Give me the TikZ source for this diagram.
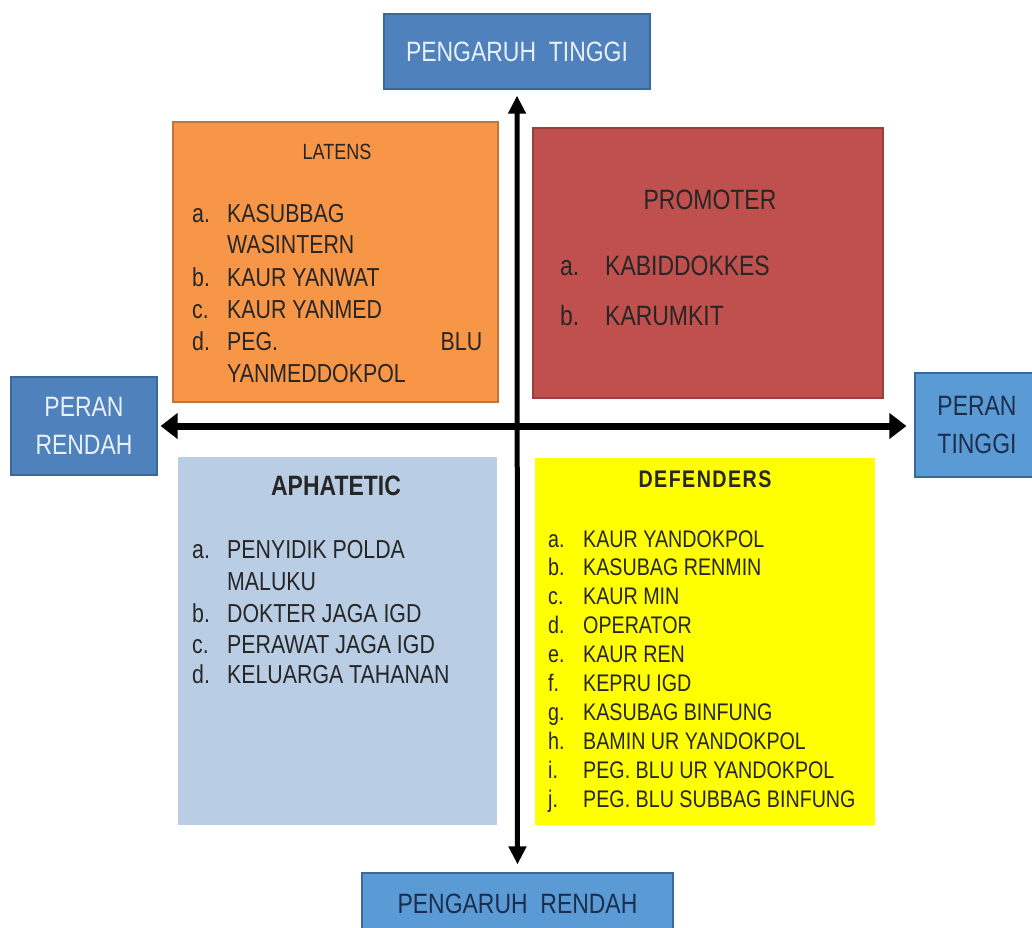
\documentclass[tikz,border=0pt]{standalone}
\usepackage{fontspec}
\setmainfont{Liberation Sans}[FakeStretch=0.82]
\usetikzlibrary{arrows.meta}
\definecolor{axisblue}{HTML}{4F81BD}
\definecolor{axislight}{HTML}{5B9BD5}
\definecolor{axisline}{HTML}{3A679C}
\definecolor{paletext}{HTML}{E8F0F8}
\definecolor{navytext}{HTML}{1C2E4C}
\definecolor{latfill}{HTML}{F79646}
\definecolor{latline}{HTML}{C0763A}
\definecolor{profill}{HTML}{C0504D}
\definecolor{proline}{HTML}{97403D}
\definecolor{apafill}{HTML}{B9CDE5}
\definecolor{deffill}{HTML}{FFFF00}

\begin{document}
\begin{tikzpicture}[x=1pt,y=-1pt,
  axbox/.style={draw=axisline,line width=1.2pt,align=center,inner sep=0pt,
    font=\fontsize{28}{38}\selectfont},
  quad/.style={inner sep=0pt},
  ttl/.style={anchor=base,inner sep=0pt,text=black!85},
  itm/.style={anchor=base west,inner sep=0pt,text=black!85}]
\useasboundingbox (0,0) rectangle (1032,927);
\clip (0,0) rectangle (1032,927);
\fill[white] (0,0) rectangle (1032,927);

% axis labels
\node[axbox,fill=axisblue,text=paletext,minimum width=266pt,minimum height=75pt]
  (pengtinggi) at (517,51.5) {PENGARUH\ \ TINGGI};
\node[axbox,fill=axislight,text=navytext,minimum width=311pt,minimum height=62pt]
  (pengrendah) at (517.5,904) {PENGARUH\ \ RENDAH};
\node[axbox,fill=axisblue,text=paletext,minimum width=146pt,minimum height=98pt]
  (perrendah) at (84,426) {PERAN\\RENDAH};
\node[axbox,fill=axislight,text=navytext,minimum width=124pt,minimum height=104pt]
  (pertinggi) at (977,425) {PERAN\\TINGGI};

% quadrants
\node[quad,draw=latline,line width=1.2pt,fill=latfill,minimum width=325pt,minimum height=280pt]
  (latens) at (335.5,262) {};
\node[quad,draw=proline,line width=1.2pt,fill=profill,minimum width=350pt,minimum height=270pt]
  (promoter) at (708,263) {};
\node[quad,fill=apafill,minimum width=319pt,minimum height=368pt]
  (aphatetic) at (337.5,641) {};
\node[quad,fill=deffill,minimum width=340pt,minimum height=367pt]
  (defenders) at (705,641.5) {};

% axes
\draw[line width=7pt,{Triangle[length=17pt,width=25pt]}-{Triangle[length=17pt,width=25pt]},
  shorten <=3pt,shorten >=8pt] (perrendah.east) -- (perrendah.east -| pertinggi.west);
\draw[line width=5pt,{Triangle[length=18pt,width=17pt]}-{Triangle[length=18pt,width=17pt]},
  shorten <=6pt,shorten >=8pt] (pengtinggi.south) -- (pengrendah.north);

% titles
\node[ttl,font=\fontsize{22}{26}\selectfont] (latensttl) at (337,159) {LATENS};
\node[ttl,font=\fontsize{28}{32}\selectfont] (promoterttl) at (710,209) {PROMOTER};
\node[ttl,font=\bfseries\fontsize{28}{32}\selectfont] (aphateticttl) at (336,495) {APHATETIC};
\node[ttl,font=\bfseries\fontsize{24}{28}\selectfont\addfontfeature{LetterSpace=6}]
  (defendersttl) at (705,487) {DEFENDERS};

% lists
\foreach \y/\l/\t [count=\i] in
{
222/a./KASUBBAG, 253//WASINTERN, 286/b./KAUR YANWAT,
318/c./KAUR YANMED, 350/d./{\makebox[255pt][l]{PEG.\hfill BLU}}, 382//YANMEDDOKPOL
}
{
\node[itm,font=\fontsize{26}{32}\selectfont] (latl\i) at (192,\y) {\l};
\node[itm,font=\fontsize{26}{32}\selectfont] (latt\i) at (227,\y) {\t};
}
\foreach \y/\l/\t [count=\i] in {275/a./KABIDDOKKES, 325/b./KARUMKIT}
{
\node[itm,font=\fontsize{28}{32}\selectfont] (prol\i) at (560,\y) {\l};
\node[itm,font=\fontsize{28}{32}\selectfont] (prot\i) at (605,\y) {\t};
}
\foreach \y/\l/\t [count=\i] in
{
558/a./PENYIDIK POLDA, 590//MALUKU, 622/b./DOKTER JAGA IGD,
653/c./PERAWAT JAGA IGD, 683/d./KELUARGA TAHANAN
}
{
\node[itm,font=\fontsize{26}{32}\selectfont] (apal\i) at (192,\y) {\l};
\node[itm,font=\fontsize{26}{32}\selectfont] (apat\i) at (227,\y) {\t};
}
\foreach \l/\t [count=\i] in
{
a./KAUR YANDOKPOL, b./KASUBAG RENMIN, c./KAUR MIN, d./OPERATOR, e./KAUR REN,
f./KEPRU IGD, g./KASUBAG BINFUNG, h./BAMIN UR YANDOKPOL,
i./PEG. BLU UR YANDOKPOL, j./PEG. BLU SUBBAG BINFUNG
}
{
\node[itm,font=\fontsize{24}{29}\selectfont] (defl\i) at (548,{547+28.9*(\i-1)}) {\l};
\node[itm,font=\fontsize{24}{29}\selectfont] (deft\i) at (583,{547+28.9*(\i-1)}) {\t};
}
\end{tikzpicture}
\end{document}
